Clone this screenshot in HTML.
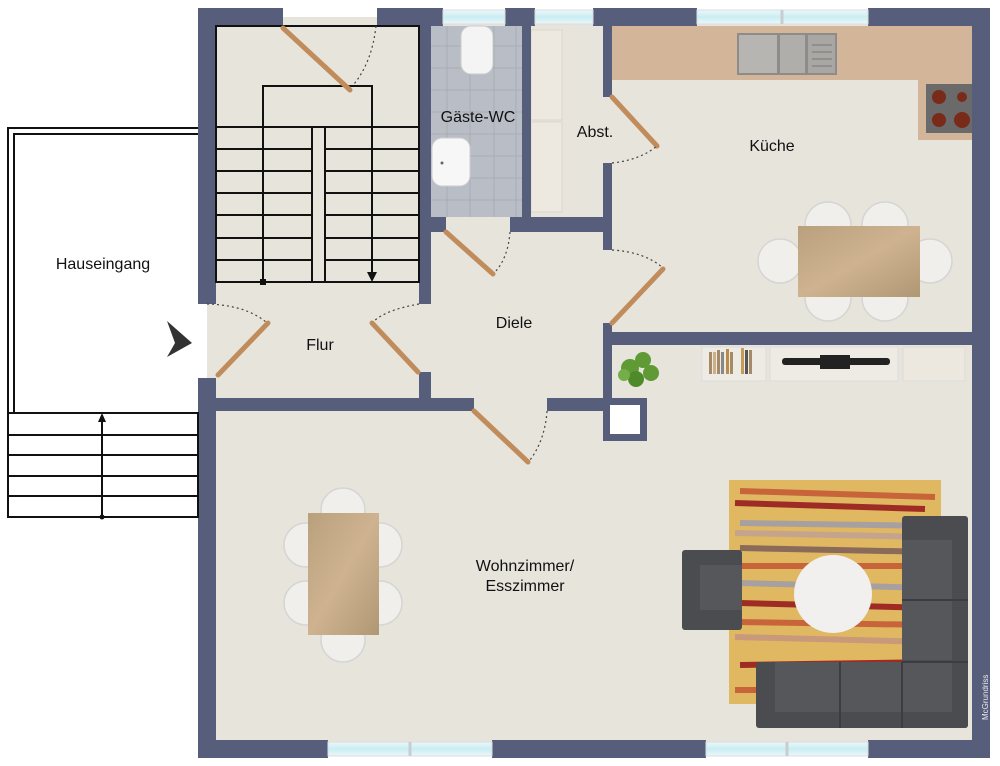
<!DOCTYPE html>
<html><head><meta charset="utf-8"><style>
html,body{margin:0;padding:0;background:#fff;width:1000px;height:766px;overflow:hidden}
svg{display:block}
text{font-family:"Liberation Sans",sans-serif;font-size:16px;fill:#111}
</style></head><body>
<svg width="1000" height="766" viewBox="0 0 1000 766" xmlns="http://www.w3.org/2000/svg">
<defs>
<linearGradient id="tbl" x1="0" y1="0" x2="1" y2="1"><stop offset="0" stop-color="#b9a07c"/><stop offset="0.5" stop-color="#cfb391"/><stop offset="1" stop-color="#b09774"/></linearGradient>
<linearGradient id="win" x1="0" y1="0" x2="0" y2="1"><stop offset="0" stop-color="#eef6f8"/><stop offset="0.5" stop-color="#c8eef4"/><stop offset="1" stop-color="#eef6f8"/></linearGradient>
</defs>
<!-- floor -->
<rect x="207" y="17" width="775" height="733" fill="#e7e4dc"/>
<rect x="198" y="8" width="85" height="18" fill="#575e7c"/>
<rect x="283" y="8" width="94" height="9" fill="#fff"/>
<!-- WC tiles -->
<rect x="431" y="26" width="92" height="191" fill="#b9bec6"/>
<g stroke="#a6acb5" stroke-width="1">
<line x1="447" y1="26" x2="447" y2="217"/><line x1="470" y1="26" x2="470" y2="217"/><line x1="494" y1="26" x2="494" y2="217"/><line x1="516" y1="26" x2="516" y2="217"/>
<line x1="431" y1="46" x2="523" y2="46"/><line x1="431" y1="68" x2="523" y2="68"/><line x1="431" y1="90" x2="523" y2="90"/><line x1="431" y1="112" x2="523" y2="112"/><line x1="431" y1="134" x2="523" y2="134"/><line x1="431" y1="156" x2="523" y2="156"/><line x1="431" y1="178" x2="523" y2="178"/><line x1="431" y1="200" x2="523" y2="200"/>
</g>
<rect x="461" y="26" width="32" height="48" rx="10" fill="#f4f4f4" stroke="#ccc"/>
<rect x="432" y="138" width="38" height="48" rx="10" fill="#f7f7f7" stroke="#ccc"/>
<circle cx="442" cy="163" r="1.5" fill="#666"/>
<!-- Abst shelves -->
<rect x="531" y="30" width="31" height="90" fill="#ede9e0" stroke="#dcd6cb"/>
<rect x="531" y="122" width="31" height="90" fill="#ede9e0" stroke="#dcd6cb"/>
<!-- kitchen counter -->
<path d="M612 26H972V140H918V80H612Z" fill="#d3b699"/>
<rect x="737" y="33" width="100" height="42" fill="#8e8c8a"/>
<rect x="739" y="35" width="38" height="38" fill="#b7b5b2"/><rect x="780" y="35" width="25" height="38" fill="#b0aeab"/><rect x="808" y="35" width="27" height="38" fill="#a9a7a4"/>
<g stroke="#777" stroke-width="1"><line x1="812" y1="45" x2="832" y2="45"/><line x1="812" y1="52" x2="832" y2="52"/><line x1="812" y1="59" x2="832" y2="59"/><line x1="812" y1="66" x2="832" y2="66"/></g>
<rect x="926" y="84" width="48" height="49" fill="#6a6a6a"/>
<circle cx="939" cy="97" r="7" fill="#7a2a18"/><circle cx="962" cy="97" r="5" fill="#7a2a18"/><circle cx="939" cy="120" r="7" fill="#7a2a18"/><circle cx="962" cy="120" r="8" fill="#7a2a18"/>
<!-- kitchen table & chairs -->
<g fill="#f0efec" stroke="#d5d5d3" stroke-width="1.5">
<circle cx="828" cy="225" r="23"/><circle cx="885" cy="225" r="23"/><circle cx="828" cy="298" r="23"/><circle cx="885" cy="298" r="23"/>
<circle cx="780" cy="261" r="22"/><circle cx="930" cy="261" r="22"/>
</g>
<rect x="798" y="226" width="122" height="71" fill="url(#tbl)"/>
<!-- living shelves -->
<rect x="702" y="347" width="64" height="34" fill="#eeebe5" stroke="#ddd"/>
<rect x="770" y="347" width="128" height="34" fill="#eeebe5" stroke="#ddd"/>
<rect x="903" y="347" width="62" height="34" fill="#ede8df" stroke="#ddd"/>
<g fill="#a58a6a"><rect x="709" y="352" width="3" height="22"/><rect x="713" y="352" width="3" height="22" fill="#c9b08a"/><rect x="717" y="350" width="3" height="24"/><rect x="721" y="352" width="3" height="22" fill="#888"/><rect x="726" y="349" width="3" height="25" fill="#b98c4a"/><rect x="730" y="352" width="3" height="22"/><rect x="741" y="348" width="3" height="26" fill="#c69b5a"/><rect x="745" y="350" width="3" height="24" fill="#555"/><rect x="749" y="350" width="3" height="24"/></g>
<rect x="782" y="358" width="108" height="7" rx="3" fill="#222"/><rect x="820" y="355" width="30" height="14" fill="#222"/>
<g fill="#5f9a35"><circle cx="630" cy="368" r="9"/><circle cx="643" cy="360" r="8"/><circle cx="651" cy="373" r="8"/><circle cx="636" cy="379" r="8" fill="#4f8a2a"/><circle cx="624" cy="375" r="6" fill="#74ae48"/></g>
<!-- dining table -->
<g fill="#f0efec" stroke="#d5d5d3" stroke-width="1.5">
<circle cx="343" cy="510" r="22"/><circle cx="343" cy="640" r="22"/>
<circle cx="306" cy="545" r="22"/><circle cx="306" cy="603" r="22"/><circle cx="380" cy="545" r="22"/><circle cx="380" cy="603" r="22"/>
</g>
<rect x="308" y="513" width="71" height="122" fill="url(#tbl)"/>
<!-- rug -->
<rect x="729" y="480" width="212" height="224" fill="#e0b862"/>
<g stroke-width="6">
<line x1="740" y1="491" x2="935" y2="497" stroke="#c8643a"/>
<line x1="735" y1="503" x2="925" y2="509" stroke="#9e2c25"/>
<line x1="740" y1="523" x2="935" y2="526" stroke="#a8a0a0"/>
<line x1="735" y1="533" x2="930" y2="537" stroke="#c4a48c"/>
<line x1="740" y1="548" x2="935" y2="552" stroke="#8a6a58"/>
<line x1="740" y1="566" x2="935" y2="566" stroke="#c8643a"/>
<line x1="740" y1="583" x2="935" y2="588" stroke="#a8a0a0"/>
<line x1="740" y1="603" x2="935" y2="608" stroke="#9e2c25"/>
<line x1="735" y1="622" x2="935" y2="625" stroke="#c8643a"/>
<line x1="735" y1="637" x2="935" y2="642" stroke="#c89a7a"/>
<line x1="740" y1="665" x2="935" y2="662" stroke="#9e2c25"/>
<line x1="735" y1="690" x2="935" y2="690" stroke="#c8643a"/>
</g>
<!-- sofas -->
<g fill="#4b4c50">
<rect x="682" y="550" width="60" height="80" rx="3"/>
<rect x="902" y="516" width="66" height="212" rx="3"/>
<rect x="756" y="662" width="212" height="66" rx="3"/>
</g>
<g fill="#56575b"><rect x="700" y="565" width="42" height="45"/><rect x="902" y="540" width="50" height="120"/><rect x="775" y="662" width="177" height="50"/></g>
<g stroke="#3c3d40" stroke-width="2"><line x1="902" y1="600" x2="968" y2="600"/><line x1="902" y1="662" x2="968" y2="662"/><line x1="840" y1="662" x2="840" y2="728"/><line x1="902" y1="662" x2="902" y2="728"/></g>
<circle cx="833" cy="594" r="39" fill="#f1f0ee"/>
<!-- walls -->
<g fill="#575e7c">
<rect x="198" y="8" width="18" height="296"/><rect x="198" y="378" width="18" height="380"/>
<rect x="377" y="8" width="66" height="18"/><rect x="505" y="8" width="30" height="18"/><rect x="593" y="8" width="104" height="18"/><rect x="868" y="8" width="122" height="18"/>
<rect x="972" y="8" width="18" height="750"/>
<rect x="198" y="740" width="130" height="18"/><rect x="492" y="740" width="214" height="18"/><rect x="868" y="740" width="122" height="18"/>
<rect x="419" y="26" width="12" height="278"/><rect x="419" y="372" width="12" height="30"/>
<rect x="522" y="26" width="9" height="191"/>
<rect x="419" y="217" width="27" height="15"/><rect x="510" y="217" width="100" height="15"/>
<rect x="603" y="26" width="9" height="71"/><rect x="603" y="163" width="9" height="87"/><rect x="603" y="323" width="9" height="80"/>
<rect x="603" y="332" width="369" height="13"/>
<rect x="198" y="398" width="276" height="13"/><rect x="547" y="398" width="65" height="13"/>
<rect x="603" y="398" width="44" height="43"/>
</g>
<rect x="610" y="405" width="30" height="29" fill="#fff"/>
<!-- windows -->
<g fill="url(#win)" stroke="#d8dde0">
<rect x="443" y="10" width="62" height="14"/><rect x="535" y="10" width="58" height="14"/><rect x="697" y="10" width="171" height="14"/>
<rect x="328" y="742" width="164" height="14"/><rect x="706" y="742" width="162" height="14"/>
</g>
<g stroke="#c8cdd0" stroke-width="3"><line x1="782" y1="10" x2="782" y2="24"/><line x1="410" y1="742" x2="410" y2="756"/><line x1="787" y1="742" x2="787" y2="756"/></g>
<!-- stairs -->
<g stroke="#111" stroke-width="2" fill="none">
<rect x="216" y="26" width="203" height="256"/>
<line x1="216" y1="127" x2="419" y2="127"/><line x1="216" y1="149" x2="419" y2="149"/><line x1="216" y1="171" x2="419" y2="171"/><line x1="216" y1="193" x2="419" y2="193"/><line x1="216" y1="215" x2="419" y2="215"/><line x1="216" y1="238" x2="419" y2="238"/><line x1="216" y1="260" x2="419" y2="260"/>
<rect x="312" y="127" width="13" height="155" fill="#e7e4dc"/>
<polyline points="263,282 263,86 372,86 372,274"/>
</g>
<rect x="260" y="279" width="6" height="6" fill="#111"/>
<polygon points="367,272 377,272 372,282" fill="#111"/>
<!-- outside -->
<g stroke="#111" stroke-width="2" fill="none">
<polyline points="198,128 8,128 8,413"/><polyline points="198,134 14,134 14,413"/>
<rect x="8" y="413" width="190" height="104"/>
<line x1="8" y1="435" x2="198" y2="435"/><line x1="8" y1="455" x2="198" y2="455"/><line x1="8" y1="476" x2="198" y2="476"/><line x1="8" y1="496" x2="198" y2="496"/>
<line x1="102" y1="517" x2="102" y2="420"/>
</g>
<polygon points="98,422 106,422 102,413" fill="#111"/><circle cx="102" cy="517" r="2.5" fill="#111"/>
<polygon points="167,321 192,343 167,357 175,343" fill="#333"/>
<!-- doors -->
<g stroke="#c18c5c" stroke-width="5" stroke-linecap="round">
<line x1="283" y1="28" x2="350" y2="90"/>
<line x1="218" y1="375" x2="268" y2="323"/>
<line x1="372" y1="323" x2="418" y2="372"/>
<line x1="446" y1="232" x2="493" y2="274"/>
<line x1="612" y1="97" x2="657" y2="146"/>
<line x1="612" y1="323" x2="663" y2="269"/>
<line x1="474" y1="411" x2="528" y2="462"/>
</g>
<g stroke="#444" stroke-width="1.2" fill="none" stroke-dasharray="2,3">
<path d="M376 26 Q372 62 354 84"/>
<path d="M207 304 Q245 305 266 322"/>
<path d="M419 304 Q385 310 373 322"/>
<path d="M510 232 Q508 258 495 272"/>
<path d="M612 163 Q640 160 657 146"/>
<path d="M612 250 Q645 252 663 268"/>
<path d="M547 411 Q545 440 530 460"/>
</g>
<!-- labels -->
<text x="103" y="269" text-anchor="middle">Hauseingang</text>
<text x="320" y="350" text-anchor="middle">Flur</text>
<text x="514" y="328" text-anchor="middle">Diele</text>
<text x="478" y="122" text-anchor="middle">Gäste-WC</text>
<text x="595" y="137" text-anchor="middle">Abst.</text>
<text x="772" y="151" text-anchor="middle">Küche</text>
<text x="525" y="571" text-anchor="middle">Wohnzimmer/</text>
<text x="525" y="591" text-anchor="middle">Esszimmer</text>
<text x="0" y="0" transform="translate(988,720) rotate(-90)" style="font-size:8px;fill:#e8e8ee">McGrundriss</text>
</svg>
</body></html>
